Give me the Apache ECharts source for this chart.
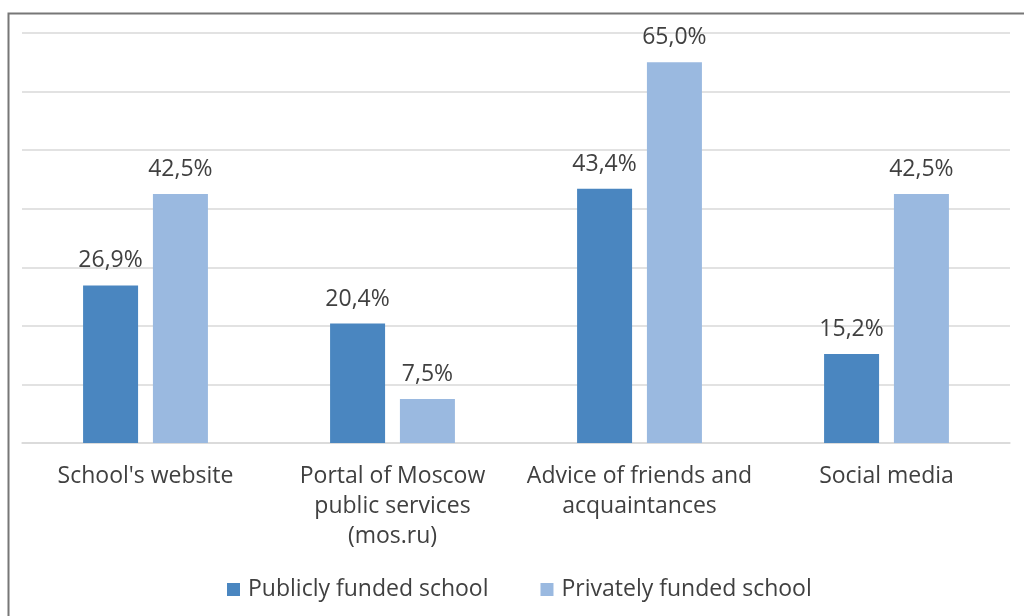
<!DOCTYPE html>
<html><head><meta charset="utf-8">
<script src="https://cdn.jsdelivr.net/npm/echarts@6/dist/echarts.min.js"></script>
<style>html,body{margin:0;padding:0;background:#fff;}#c{width:1024px;height:616px;}</style>
</head><body><div id="c"></div>
<script>
const categories = ["School's website", "Portal of Moscow\npublic services\n(mos.ru)", "Advice of friends and\nacquaintances", "Social media"];
const seriesNames = ["Publicly funded school", "Privately funded school"];
const publicValues = [26.9, 20.4, 43.4, 15.2];
const privateValues = [42.5, 7.5, 65.0, 42.5];
const colors = ['#4a86c0', '#9ab9e0'];
const FONT = 'Open Sans';
const chart = echarts.init(document.getElementById('c'), null, {renderer: 'canvas'});
const fmt = p => p.value.toFixed(1).replace('.', ',') + '%';
const mk = (name, data, color) => ({
  name, type: 'bar', data, barWidth: 55, barGap: '27%',
  itemStyle: {color},
  label: {show: true, position: 'top', distance: 13, formatter: fmt, color: '#404040', fontSize: 23, fontFamily: FONT}
});
chart.setOption({
  animation: false,
  graphic: [{type: 'polyline', shape: {points: [[8.5, 616], [8.5, 13.5], [1024, 13.5]]}, style: {stroke: '#777', lineWidth: 2, fill: null}}],
  grid: {left: 22, right: 14, top: 33, bottom: 173},
  legend: {bottom: 10, left: 222, itemWidth: 13, itemHeight: 13, itemGap: 52, icon: 'rect',
    textStyle: {color: '#404040', fontSize: 23, fontFamily: FONT, padding: [0, 0, 0, 3]}, data: seriesNames},
  xAxis: {type: 'category', data: categories,
    axisLine: {lineStyle: {color: '#d9d9d9', width: 1.5}}, axisTick: {show: false},
    axisLabel: {color: '#404040', fontSize: 23, fontFamily: FONT, lineHeight: 30, margin: 18, interval: 0}},
  yAxis: {type: 'value', min: 0, max: 70, interval: 10, axisLabel: {show: false},
    axisLine: {show: false}, axisTick: {show: false},
    splitLine: {lineStyle: {color: '#d9d9d9', width: 1.5}}},
  series: [mk(seriesNames[0], publicValues, colors[0]), mk(seriesNames[1], privateValues, colors[1])]
});
</script></body></html>
